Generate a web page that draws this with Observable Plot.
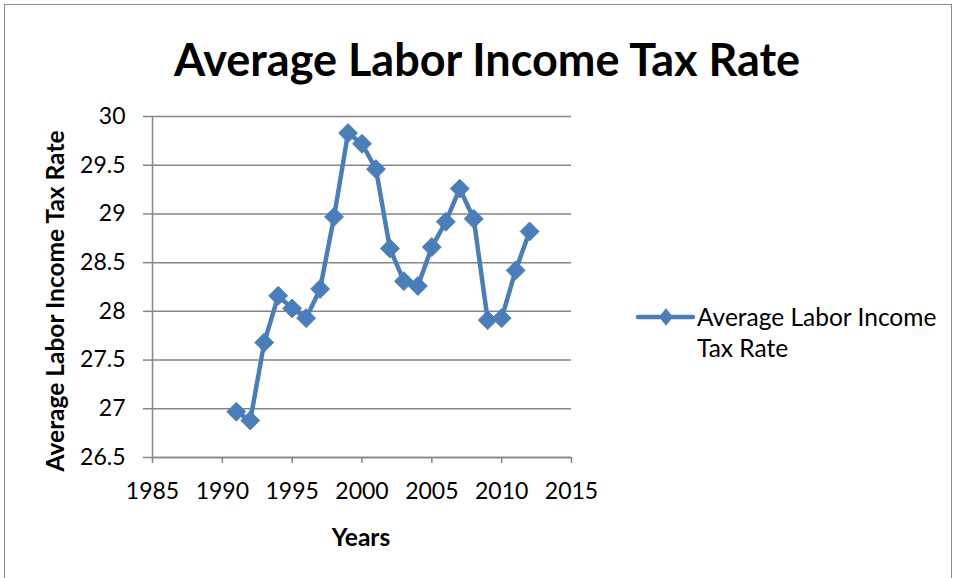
<!DOCTYPE html>
<html>
<head>
<meta charset="utf-8">
<script src="https://cdn.jsdelivr.net/npm/d3@7"></script>
<script src="https://cdn.jsdelivr.net/npm/@observablehq/plot@0.6"></script>
<style>
  html, body { margin: 0; padding: 0; background: #fff; }
  #wrap { position: relative; width: 957px; height: 578px; overflow: hidden; font-family: Lato, "Open Sans", sans-serif; color: #000; }
  #frame { position: absolute; left: 4px; top: 4px; width: 948px; height: 600px; border: 1.5px solid #8c8c8c; box-sizing: border-box; }
  #title { position: absolute; left: 0; width: 974px; top: 32px; text-align: center; font-weight: bold; font-size: 45px; line-height: normal; white-space: nowrap; }
  #ytitle { position: absolute; left: 54px; top: 301px; transform: translate(-50%, -50%) rotate(-90deg); white-space: nowrap; font-weight: bold; font-size: 24.5px; line-height: normal; }
  #xtitle { position: absolute; left: 361px; top: 522px; transform: translateX(-50%); font-weight: bold; font-size: 24.5px; line-height: normal; }
  #legsym { position: absolute; left: 630px; top: 303px; }
  #legtxt { position: absolute; left: 697px; top: 301px; font-size: 24.5px; line-height: 31px; white-space: nowrap; }
  #chart { position: absolute; left: 0; top: 0; }
</style>
</head>
<body>
<div id="wrap">
  <div id="frame"></div>
  <div id="chart"></div>
  <div id="title"></div>
  <div id="ytitle"></div>
  <div id="xtitle"></div>
  <svg id="legsym" width="70" height="30"></svg>
  <div id="legtxt"></div>
</div>
<script>
const chartTitle = "Average Labor Income Tax Rate";
const xLabel = "Years";
const yLabel = "Average Labor Income Tax Rate";
const legendLines = ["Average Labor Income", "Tax Rate"];
const years = [1991,1992,1993,1994,1995,1996,1997,1998,1999,2000,2001,2002,2003,2004,2005,2006,2007,2008,2009,2010,2011,2012];
const rates = [26.97,26.88,27.68,28.16,28.03,27.93,28.23,28.97,29.83,29.72,29.46,28.645,28.31,28.26,28.66,28.92,29.26,28.95,27.91,27.93,28.42,28.82];
const xTicks = [1985,1990,1995,2000,2005,2010,2015];
const yTicks = [26.5,27,27.5,28,28.5,29,29.5,30];

const data = years.map((y, i) => ({year: y, rate: rates[i]}));
const blue = "#4a7ebb";
const gray = "#868686";

document.getElementById("title").textContent = chartTitle;
document.getElementById("ytitle").textContent = yLabel;
document.getElementById("xtitle").textContent = xLabel;
document.getElementById("legtxt").innerHTML = legendLines.join("<br>");

const chart = Plot.plot({
  width: 957,
  height: 578,
  marginLeft: 152,
  marginRight: 386,
  marginTop: 116,
  marginBottom: 121,
  style: {background: "transparent", fontFamily: "Lato, 'Open Sans', sans-serif", overflow: "visible", color: "#000"},
  x: {domain: [1985, 2015]},
  y: {domain: [26.5, 30]},
  marks: [
    Plot.gridY(yTicks, {stroke: gray, strokeOpacity: 1, strokeWidth: 1.5}),
    Plot.ruleX([1985], {stroke: gray, strokeWidth: 1.5}),
    Plot.ruleY([26.5], {stroke: gray, strokeWidth: 1.5}),
    Plot.axisY(yTicks, {tickSize: 9, tickPadding: 18, fontSize: 23, stroke: gray, strokeWidth: 1.5, tickFormat: d => String(d), label: null}),
    Plot.axisX(xTicks, {tickSize: 6, tickPadding: 19, fontSize: 23, stroke: gray, strokeWidth: 1.5, tickFormat: d => String(d), label: null}),
    Plot.line(data, {x: "year", y: "rate", stroke: blue, strokeWidth: 4.5}),
    Plot.dot(data, {x: "year", y: "rate", symbol: "diamond2", r: 8.5, fill: blue, stroke: blue, strokeWidth: 1})
  ]
});
chart.querySelectorAll("text").forEach(t => t.setAttribute("fill", "#000"));
document.getElementById("chart").appendChild(chart);

// legend symbol
document.getElementById("legsym").innerHTML =
  `<line x1="8" y1="14" x2="63" y2="14" stroke="${blue}" stroke-width="4.5" stroke-linecap="round"/>
   <path d="M36,5.3 L43,14 L36,22.7 L29,14 Z" fill="${blue}"/>`;
</script>
</body>
</html>
